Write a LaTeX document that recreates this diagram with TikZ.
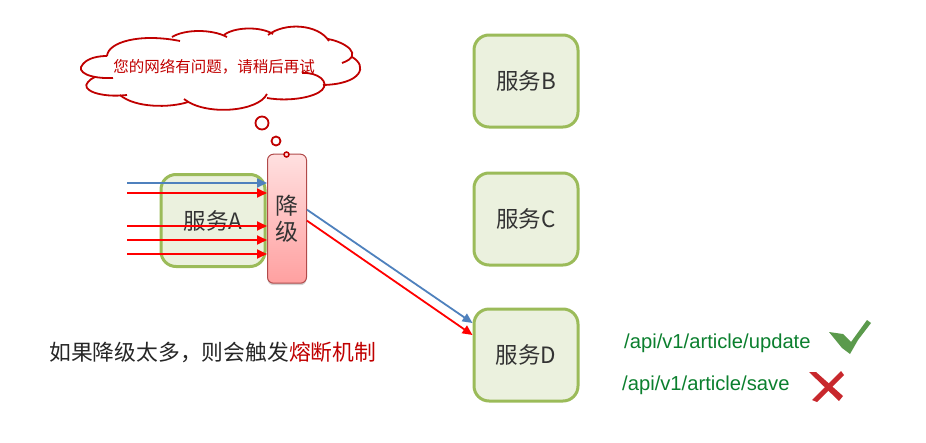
\documentclass[tikz,border=0pt]{standalone}
\usepackage{fontspec}
\setmainfont{Noto Sans CJK SC}
\newfontfamily\apifont{Liberation Sans}
\usetikzlibrary{arrows.meta,shadows}
\definecolor{boxline}{HTML}{9BBB59}
\definecolor{boxfill}{HTML}{EBF1DE}
\definecolor{cloudred}{HTML}{C00000}
\definecolor{flowblue}{HTML}{4F81BD}
\definecolor{apigreen}{HTML}{0B7F2E}
\definecolor{checkgreen}{HTML}{5B9A4C}
\definecolor{crossred}{HTML}{C8282D}
\definecolor{downline}{HTML}{B04A4A}
\definecolor{downtop}{HTML}{FFE0E0}
\definecolor{downbottom}{HTML}{FFA0A0}
\tikzset{
	service/.style={draw=boxline, fill=boxfill, line width=3pt, rounded corners=15pt, minimum width=104pt, minimum height=92pt, inner sep=0pt, text=black!80, font=\fontsize{22.5}{26}\selectfont},
	degrade/.style={draw=downline, line width=1pt, rounded corners=6pt, top color=downtop, bottom color=downbottom, drop shadow={opacity=.35, shadow xshift=0pt, shadow yshift=-2pt}, minimum width=39pt, minimum height=129pt, inner sep=0pt, align=center, text=black!80, font=\fontsize{23}{26}\selectfont},
	bubble/.style={circle, draw=cloudred, fill=white, line width=1.8pt, inner sep=0pt},
	bluearrow/.style={draw=flowblue, line width=1.8pt, -{Triangle[length=10pt,width=9pt]}},
	redarrow/.style={draw=red, line width=1.8pt, -{Triangle[length=10pt,width=9pt]}},
	cloudline/.style={draw=cloudred, line width=1.8pt},
	api/.style={anchor=west, inner sep=0pt, text=apigreen, font=\apifont\fontsize{20.2}{24}\selectfont}
}
\begin{document}
\begin{tikzpicture}[x=1pt, y=-1pt]
	\useasboundingbox (0,0) rectangle (926,442);

	\node[service] (svcb) at (526, 81) {服务B};
	\node[service] (svcc) at (526, 219) {服务C};
	\node[service] (svcd) at (526, 355) {服务D};
	\node[service] (svca) at (213, 220.5) {服务A};
	\node[degrade] (down) at (287, 218.7) {降\\级};

	% arrows coming in
	\coordinate (in1) at (127, 183);
	\coordinate (in2) at (127, 193);
	\coordinate (in3) at (127, 226);
	\coordinate (in4) at (127, 240);
	\coordinate (in5) at (127, 254);
	\draw[bluearrow] (in1) -- (in1 -| down.west);
	\foreach \n in {in2, in3, in4, in5}
		\draw[redarrow] (\n) -- (\n -| down.west);

	\draw[bluearrow] ([yshift=9pt]down.east) -- ([yshift=32pt]svcd.west);
	\draw[redarrow] ([yshift=-2pt]down.east) -- ([yshift=20pt]svcd.west);

	% cloud
	\draw[cloudline] (107,56) .. controls (108,42) and (140,33) .. (180,41);
	\draw[cloudline] (172,37) .. controls (185,29) and (212,29) .. (227,37);
	\draw[cloudline] (224,35) .. controls (234,27) and (260,26) .. (273,34);
	\draw[cloudline] (268,35) .. controls (285,22) and (318,24) .. (329,41);
	\draw[cloudline] (328,39) .. controls (345,42) and (365,55) .. (342,63);
	\draw[cloudline] (352,57) .. controls (368,66) and (362,84) .. (323,85);
	\draw[cloudline] (302,73) .. controls (318,72) and (330,82) .. (322,90) .. controls (315,97) and (290,102) .. (267,98);
	\draw[cloudline] (267,94) .. controls (258,112) and (205,116) .. (184,99);
	\draw[cloudline] (188,102) .. controls (170,108) and (135,108) .. (120,95);
	\draw[cloudline] (127,95) .. controls (100,98) and (80,90) .. (88,82) .. controls (90,80) and (92,78) .. (95,77);
	\draw[cloudline] (113,78) .. controls (90,79) and (75,72) .. (83,64) .. controls (88,58) and (98,56) .. (107,56);
	\node[inner sep=0pt, text=cloudred, font=\fontsize{15.5}{18}\selectfont] (cloudtext) at (214, 67) {您的网络有问题，请稍后再试};

	\node[bubble, minimum size=13pt] (bubble1) at (262, 123) {};
	\node[bubble, minimum size=9pt] (bubble2) at (276, 141) {};
	\node[bubble, line width=1.5pt, fill=downtop, minimum size=5pt] (bubble3) at (286.5, 154.5) {};

	\node[anchor=west, inner sep=0pt, text=black!85, font=\fontsize{21.8}{26}\selectfont] (note) at (49, 352) {如果降级太多，则会触发\textcolor{cloudred}{熔断机制}};

	\node[api] (apiok) at (624, 343) {/api/v1/article/update};
	\node[api] (apibad) at (622, 385.5) {/api/v1/article/save};

	% check mark
	\fill[checkgreen] (829,332) -- (843,334) -- (851,342) -- (867,320) -- (871,323) -- (858,340) -- (850,354) -- (842,348) -- cycle;
	% cross
	\fill[crossred] (809,372) -- (816,372) -- (843,396) -- (839,401) -- cycle;
	\fill[crossred] (841,371) -- (844,375) -- (817,402) -- (812,400) -- cycle;
\end{tikzpicture}
\end{document}
